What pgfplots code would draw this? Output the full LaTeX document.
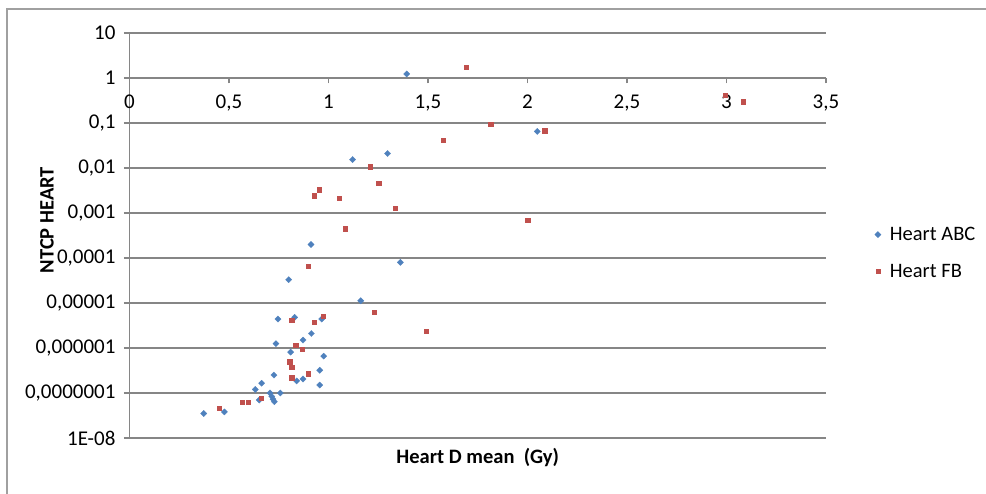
\documentclass[border=0pt]{standalone}
\usepackage{pgfplots}
\pgfplotsset{compat=1.18}
\usepackage{fontspec}
\setmainfont{Carlito}
\definecolor{abc}{HTML}{4F81BD}
\definecolor{fb}{HTML}{C0504D}
\definecolor{gridc}{HTML}{868686}
\definecolor{borderc}{HTML}{A0A0A0}
\pgfplotsset{mylegimg/.style={legend image code/.code={\draw[##1] plot coordinates {(0pt,0pt)}; \path[draw=none] (-3pt,0pt) -- (10pt,0pt);}}}
\begin{document}
\begin{tikzpicture}[font=\fontsize{20.5}{24}\selectfont]
\useasboundingbox (-129.5pt,-56pt) rectangle (856.5pt,438pt);
\draw[borderc,line width=1.2pt] (-122.5pt,-60pt) -- (-122.5pt,429pt) -- (860pt,429pt);
\begin{axis}[
  at={(0pt,0pt)}, anchor=south west,
  scale only axis, width=696.5pt, height=405pt,
  ymode=log, xmin=0, xmax=3.5, ymin=1e-8, ymax=10,
  axis x line=middle, axis y line=left,
  axis line style={-,gridc,line width=1.2pt},
  hide obscured x ticks=false,
  ymajorgrids, major grid style={gridc,line width=1.3pt},
  ytick={1e-8,1e-7,1e-6,1e-5,1e-4,1e-3,1e-2,1e-1,1,10},
  yticklabels={\mbox{1E-08},\mbox{0,0000001},\mbox{0,000001},\mbox{0,00001},\mbox{0,0001},\mbox{0,001},\mbox{0,01},\mbox{0,1},\mbox{1},\mbox{10}},
  xtick={0,0.5,1,1.5,2,2.5,3,3.5},
  xticklabels={\mbox{0},\mbox{0,5},\mbox{1},\mbox{1,5},\mbox{2},\mbox{2,5},\mbox{3},\mbox{3,5}},
  yminorticks=false,
  tick align=outside, major tick length=5.5pt,
  tick style={gridc,line width=1.2pt},
  tick label style={font=\fontsize{21}{24}\selectfont},
  xticklabel style={yshift=-8pt},
  yticklabel style={xshift=-5pt},
  xlabel={\textbf{Heart D mean\ \ (Gy)}},
  ylabel={\textbf{NTCP HEART}},
  xlabel style={at={(axis description cs:0.5,0)},anchor=center,yshift=-20pt},
  ylabel style={at={(axis description cs:-0.1184,0.538)},anchor=center},
  legend style={at={(axis description cs:1.0655,0.457)},anchor=west,draw=none,fill=none,row sep=18pt,font=\fontsize{20.5}{24}\selectfont},
  legend cell align=left,
  clip=false,
]
\addplot[only marks, mark=square*, mark size=2.2pt, mark options={rotate=45,fill=abc,draw=abc,line width=0.3pt}, mylegimg] coordinates {
(1.393,1.23) (2.049,0.065) (1.121,0.0154) (1.297,0.021) (0.912,0.0002)
(1.361,8e-5) (0.800,3.3e-5) (1.162,1.12e-5) (0.746,4.4e-6) (0.830,4.8e-6)
(0.966,4.4e-6) (0.914,2.1e-6) (0.872,1.5e-6) (0.736,1.25e-6) (0.810,8.1e-7)
(0.976,6.6e-7) (0.956,3.2e-7) (0.726,2.5e-7) (0.872,2.05e-7) (0.840,1.85e-7)
(0.956,1.5e-7) (0.664,1.65e-7) (0.632,1.2e-7) (0.706,1e-7) (0.758,1e-7)
(0.715,8.4e-8) (0.721,7.3e-8) (0.728,6.4e-8) (0.652,7e-8) (0.477,3.8e-8)
(0.373,3.5e-8)
};
\addlegendentry{Heart ABC}
\addplot[only marks, mark=square*, mark size=2.1pt, mark options={fill=fb,draw=fb,line width=0.2pt}, mylegimg] coordinates {
(1.690,1.78) (2.992,0.41) (3.085,0.30) (1.815,0.093) (2.086,0.068)
(1.574,0.041) (1.210,0.0107) (1.252,0.0046) (0.951,0.0033) (0.929,0.00244)
(1.054,0.00215) (1.336,0.00127) (2.001,0.00069) (1.085,0.00045) (0.899,6.6e-5)
(1.230,6.3e-6) (0.815,4.1e-6) (0.929,3.7e-6) (0.971,5.2e-6) (1.490,2.4e-6)
(0.835,1.18e-6) (0.867,9.5e-7) (0.805,5.0e-7) (0.815,3.7e-7) (0.897,2.7e-7)
(0.815,2.2e-7) (0.661,7.8e-8) (0.565,6.2e-8) (0.595,6.2e-8) (0.450,4.6e-8)
};
\addlegendentry{Heart FB}
\end{axis}
\end{tikzpicture}
\end{document}
